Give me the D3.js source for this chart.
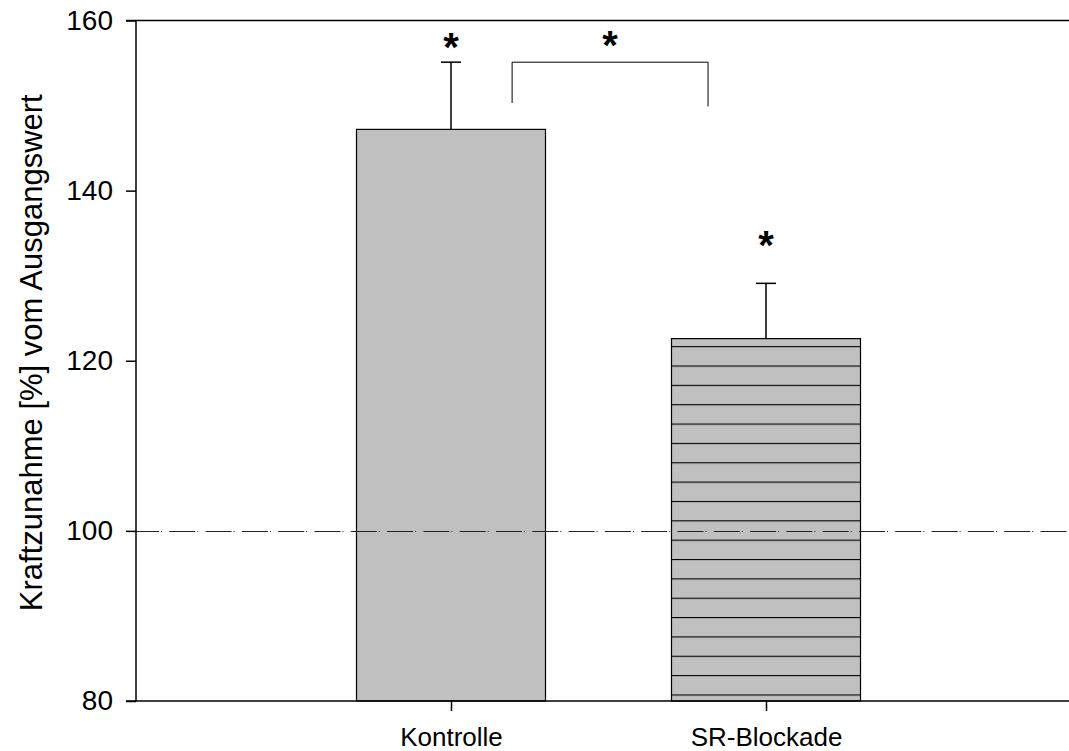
<!DOCTYPE html>
<html><head><meta charset="utf-8">
<script src="https://cdn.jsdelivr.net/npm/d3@7"></script>
<style>body{margin:0;background:#fff;} text{font-family:Arial,"Liberation Sans",sans-serif;}</style>
</head><body>
<svg id="c" width="1069" height="751"></svg>
<script>
const categories = ["Kontrolle", "SR-Blockade"];
const means = [147.2, 122.6];
const errors = [7.9, 6.5];
const patterns = ["solid", "stripes"];
const yTicks = [80, 100, 120, 140, 160];
const refValue = 100;
const starLevels = [155.2, 132.0];
const bracketTop = 155.1;
const bracketBottoms = [150.3, 149.9];
const bracketStarLevel = 155.5;

const W = 1069, H = 751;
const m = {left: 136, right: 1, top: 20.5, bottom: 50};
const pw = W - m.left - m.right, ph = H - m.top - m.bottom;
const svg = d3.select("#c");

const y = d3.scaleLinear().domain([80, 160]).range([m.top + ph, m.top]);
const step = 315;
const x = d3.scalePoint().domain(categories).range([m.left + step, m.left + 2 * step]);
const bw = 189;

// stripe pattern
const defs = svg.append("defs");
const sp = 19.35;
const pat = defs.append("pattern").attr("id", "stripes").attr("patternUnits", "userSpaceOnUse")
  .attr("width", 10).attr("height", sp).attr("y", y(means[1]) + 7.5);
pat.append("rect").attr("width", 10).attr("height", sp).attr("fill", "#c0c0c0");
pat.append("line").attr("x1", 0).attr("x2", 10).attr("y1", 0.5).attr("y2", 0.5).attr("stroke", "#000").attr("stroke-width", 1.2);

const g = svg.append("g");
// bars
g.selectAll("rect.bar").data(categories).join("rect").attr("class", "bar")
  .attr("x", d => x(d) - bw / 2).attr("width", bw)
  .attr("y", (d, i) => y(means[i])).attr("height", (d, i) => y(80) - y(means[i]))
  .attr("fill", (d, i) => patterns[i] === "stripes" ? "url(#stripes)" : "#c0c0c0")
  .attr("stroke", "#000").attr("stroke-width", 1.2);

// error bars
categories.forEach((c, i) => {
  g.append("line").attr("x1", x(c)).attr("x2", x(c)).attr("y1", y(means[i])).attr("y2", y(means[i] + errors[i]))
    .attr("stroke", "#000").attr("stroke-width", 1.5);
  g.append("line").attr("x1", x(c) - 10).attr("x2", x(c) + 10).attr("y1", y(means[i] + errors[i])).attr("y2", y(means[i] + errors[i]))
    .attr("stroke", "#000").attr("stroke-width", 1.5);
  g.append("text").attr("x", x(c)).attr("y", y(starLevels[i])).attr("text-anchor", "middle")
    .attr("font-size", 40).attr("font-weight", "bold").text("*");
});

// reference line
g.append("line").attr("x1", m.left).attr("x2", W - m.right).attr("y1", Math.round(y(refValue)) + 0.5).attr("y2", Math.round(y(refValue)) + 0.5)
  .attr("stroke", "#222").attr("stroke-width", 1).attr("stroke-dasharray", "26,2,1,7.3").attr("stroke-dashoffset", -(m.left - 139));

// bracket
const bx1 = x(categories[0]) + 0.194 * step, bx2 = x(categories[1]) - 0.184 * step;
g.append("path").attr("d", `M${bx1},${y(bracketBottoms[0])}V${y(bracketTop)}H${bx2}V${y(bracketBottoms[1])}`)
  .attr("fill", "none").attr("stroke", "#000").attr("stroke-width", 1);
g.append("text").attr("x", (bx1 + bx2) / 2).attr("y", y(bracketStarLevel)).attr("text-anchor", "middle")
  .attr("font-size", 40).attr("font-weight", "bold").text("*");

// axes
const ya = svg.append("g").attr("transform", `translate(${m.left},0)`)
  .call(d3.axisLeft(y).tickValues(yTicks).tickSize(10).tickPadding(13).tickFormat(d3.format("d")));
ya.select(".domain").remove();
ya.selectAll("line").attr("stroke-width", 1.5);
ya.selectAll("text").attr("font-size", 28).attr("fill", "#000");

const xa = svg.append("g").attr("transform", `translate(0,${m.top + ph})`)
  .call(d3.axisBottom(x).tickSize(10).tickPadding(17));
xa.select(".domain").remove();
xa.selectAll("line").attr("stroke-width", 1.5);
xa.selectAll("text").attr("font-size", 26).attr("fill", "#000");

// frame lines (left, top, bottom)
svg.append("line").attr("x1", m.left).attr("x2", m.left).attr("y1", m.top).attr("y2", m.top + ph).attr("stroke", "#000").attr("stroke-width", 1.5);
svg.append("line").attr("x1", m.left - 10).attr("x2", W).attr("y1", m.top).attr("y2", m.top).attr("stroke", "#000").attr("stroke-width", 1.5);
svg.append("line").attr("x1", m.left - 10).attr("x2", W).attr("y1", m.top + ph).attr("y2", m.top + ph).attr("stroke", "#000").attr("stroke-width", 1.5);

// y title
svg.append("text").attr("transform", `translate(42,${m.top + ph / 2 - 8}) rotate(-90)`).attr("text-anchor", "middle")
  .attr("font-size", 31).text("Kraftzunahme [%] vom Ausgangswert");
</script>
</body></html>
